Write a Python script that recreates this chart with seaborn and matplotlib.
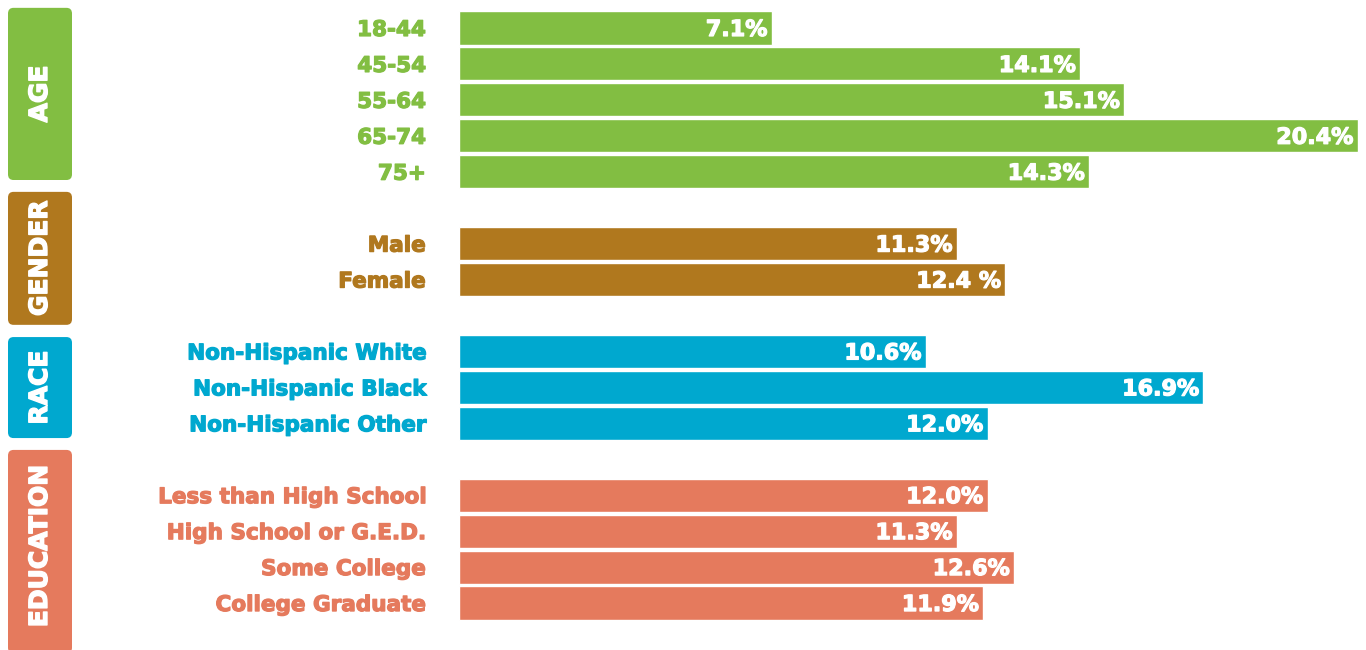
import numpy as np
import pandas as pd
import matplotlib
matplotlib.use("Agg")
import matplotlib.pyplot as plt
import matplotlib.transforms as mtransforms
import matplotlib.patheffects as pe
from matplotlib.patches import FancyBboxPatch
import seaborn as sns

sns.set_theme(style="white")
plt.rcParams['font.family'] = ['DejaVu Sans']

# data
age_labels = ["18-44", "45-54", "55-64", "65-74", "75+"]
age_values = [7.1, 14.1, 15.1, 20.4, 14.3]
gender_labels = ["Male", "Female"]
gender_values = [11.3, 12.4]
race_labels = ["Non-Hispanic White", "Non-Hispanic Black", "Non-Hispanic Other"]
race_values = [10.6, 16.9, 12.0]
edu_labels = ["Less than High School", "High School or G.E.D.", "Some College", "College Graduate"]
edu_values = [12.0, 11.3, 12.6, 11.9]
value_text = ["7.1%", "14.1%", "15.1%", "20.4%", "14.3%",
              "11.3%", "12.4 %",
              "10.6%", "16.9%", "12.0%",
              "12.0%", "11.3%", "12.6%", "11.9%"]

groups = ["AGE", "GENDER", "RACE", "EDUCATION"]
colors = {"AGE": "#82BE42", "GENDER": "#B0781E", "RACE": "#00A8CF", "EDUCATION": "#E57A5D"}

df = pd.DataFrame({
    "label": age_labels + gender_labels + race_labels + edu_labels,
    "value": age_values + gender_values + race_values + edu_values,
    "group": ["AGE"] * 5 + ["GENDER"] * 2 + ["RACE"] * 3 + ["EDUCATION"] * 4,
})
df["text"] = value_text

# row order with one blank row between groups
order = age_labels + [" "] + gender_labels + ["  "] + race_labels + ["   "] + edu_labels

W, H = 1366, 650
fig = plt.figure(figsize=(W / 100, H / 100), dpi=100)
ax = fig.add_axes([459 / W, 1 - 621 / H, (1362 - 459) / W, 611 / H])

sns.barplot(data=df, y="label", x="value", hue="group", palette=colors,
            order=order, orient="h", width=0.92, dodge=False, legend=False,
            saturation=1, ax=ax)

ax.set_xlim(0, 20.5)
ax.set_ylim(len(order) - 0.5, -0.5)
ax.set_xlabel("")
ax.set_ylabel("")
ax.set_xticks([])
sns.despine(ax=ax, left=True, bottom=True)
ax.tick_params(axis="y", length=0, pad=24)

lab_color = dict(zip(df["label"], df["group"].map(colors)))
for t in ax.get_yticklabels():
    c = lab_color.get(t.get_text(), "white")
    t.set_fontsize(15.5)
    t.set_fontweight("bold")
    t.set_color(c)
    t.set_verticalalignment("center_baseline")
    t.set_path_effects([pe.withStroke(linewidth=0.9, foreground=c)])

# value labels inside bar ends
ypos = {lab: i for i, lab in enumerate(order)}
for _, r in df.iterrows():
    ax.annotate(r["text"], (r["value"], ypos[r["label"]]), xytext=(-3, 0),
                textcoords="offset points", ha="right", va="center_baseline",
                color="white", fontsize=16, fontweight="bold",
                path_effects=[pe.withStroke(linewidth=0.9, foreground="white")])

# side group boxes (x in figure px, y in row units)
box_rows = {"AGE": (-0.56, 4.23), "GENDER": (4.56, 8.26), "RACE": (8.6, 11.41), "EDUCATION": (11.74, 17.4)}
trans = mtransforms.blended_transform_factory(fig.transFigure, ax.transData)
x0, x1 = 8 / W, 72 / W
for g in groups:
    top, bot = box_rows[g]
    p = FancyBboxPatch((x0, top), x1 - x0, bot - top, boxstyle="round,pad=0,rounding_size=0.004",
                       transform=trans, facecolor=colors[g], edgecolor="none", clip_on=False,
                       mutation_aspect=40)
    fig.add_artist(p)
    fig.text((x0 + x1) / 2, (top + min(bot, 17.1)) / 2, g, rotation=90,
             ha="center", va="center", color="white", fontsize=18,
             fontweight="bold", transform=trans,
             path_effects=[pe.withStroke(linewidth=1.0, foreground="white")])

fig.savefig("out.png", dpi=100)
